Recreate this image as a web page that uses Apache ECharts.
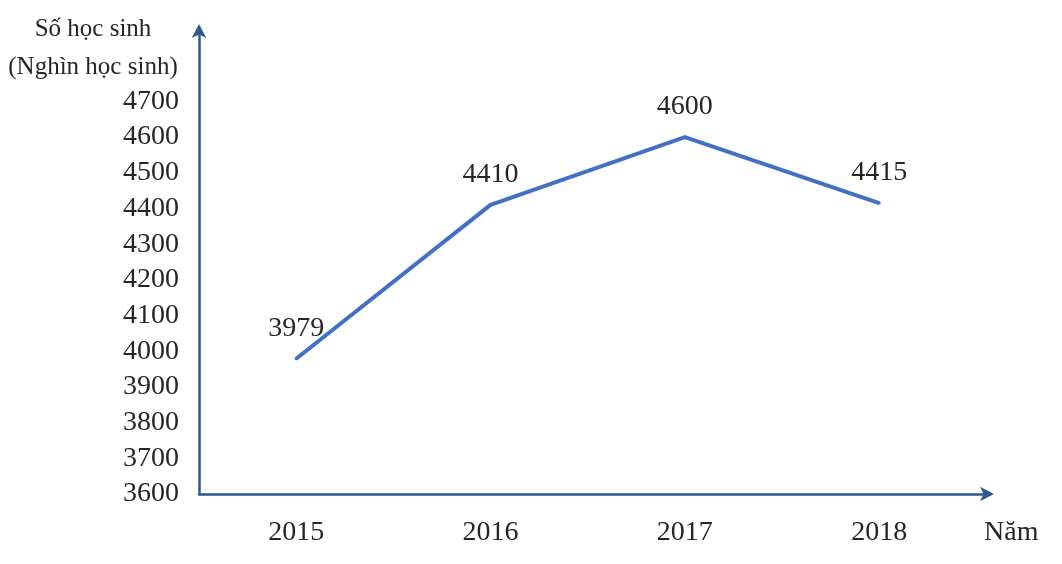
<!DOCTYPE html>
<html>
<head>
<meta charset="utf-8">
<script src="https://cdn.jsdelivr.net/npm/echarts@6/dist/echarts.min.js"></script>
<style>
html,body{margin:0;padding:0;background:#fff;}
#chart{width:1062px;height:564px;}
</style>
</head>
<body>
<div id="chart"></div>
<script>
const years = [2015, 2016, 2017, 2018];
const students = [3979, 4410, 4600, 4415];
const yTicks = [3600, 3700, 3800, 3900, 4000, 4100, 4200, 4300, 4400, 4500, 4600, 4700];
const yAxisTitle = 'Số học sinh\n(Nghìn học sinh)';
const xAxisTitle = 'Năm';

const FONT = '"Liberation Serif", "Times New Roman", serif';
const TEXT = '#262626';
const AXIS = '#2c5a8f';
const LINE = '#4170c8';

const chart = echarts.init(document.getElementById('chart'));
chart.setOption({
  animation: false,
  backgroundColor: '#ffffff',
  grid: { left: 199, right: 72, top: 30, bottom: 70, containLabel: false },
  xAxis: {
    type: 'value',
    min: 2014.5,
    max: 2018.57,
    interval: 0.5,
    splitLine: { show: false },
    axisTick: { show: false },
    axisLine: {
      show: true,
      onZero: false,
      symbol: ['none', 'arrow'],
      symbolSize: [11, 14],
      symbolOffset: [0, 4],
      lineStyle: { color: AXIS, width: 2.5 }
    },
    axisLabel: {
      margin: 25,
      fontFamily: FONT,
      fontSize: 28,
      color: TEXT,
      showMaxLabel: false,
      formatter: function (v) { return years.indexOf(Math.round(v * 100) / 100) >= 0 ? String(v) : ''; }
    },
    name: xAxisTitle,
    nameLocation: 'end',
    nameGap: -6,
    nameTextStyle: {
      fontFamily: FONT, fontSize: 28, color: TEXT,
      align: 'left', verticalAlign: 'top', padding: [25, 0, 0, 0]
    }
  },
  yAxis: {
    type: 'value',
    min: 3600,
    max: 4900,
    interval: 100,
    splitLine: { show: false },
    axisTick: { show: false },
    axisLine: {
      show: true,
      symbol: ['none', 'arrow'],
      symbolSize: [11, 14],
      symbolOffset: [0, 6],
      lineStyle: { color: AXIS, width: 2.5 }
    },
    axisLabel: {
      margin: 20,
      fontFamily: FONT,
      fontSize: 28,
      color: TEXT,
      formatter: function (v) { return yTicks.indexOf(v) >= 0 ? String(v) : ''; }
    },
    name: yAxisTitle,
    nameLocation: 'end',
    nameGap: 20,
    nameTextStyle: {
      fontFamily: FONT, fontSize: 25, color: TEXT, lineHeight: 38,
      align: 'center', verticalAlign: 'top', padding: [0, 212, 0, 0]
    }
  },
  series: [{
    type: 'line',
    data: years.map((y, i) => [y, students[i]]),
    symbol: 'circle',
    symbolSize: 3,
    showSymbol: true,
    itemStyle: { color: LINE, borderWidth: 0 },
    lineStyle: { color: LINE, width: 4 },
    label: {
      show: true,
      position: 'top',
      distance: 15,
      fontFamily: FONT,
      fontSize: 28,
      color: TEXT,
      formatter: function (p) { return String(p.value[1]); }
    }
  }]
});
</script>
</body>
</html>
